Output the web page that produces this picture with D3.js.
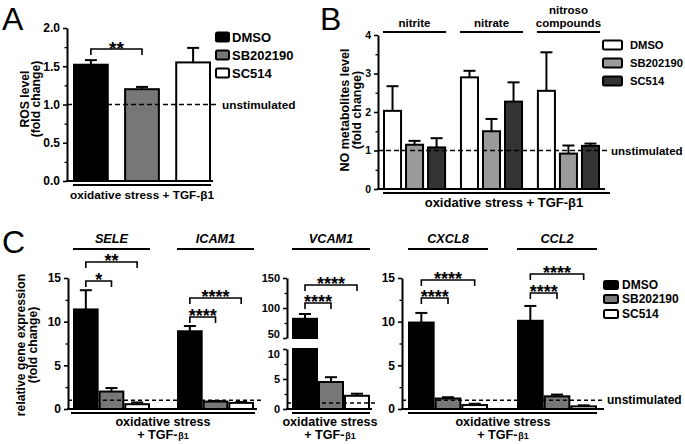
<!DOCTYPE html>
<html><head><meta charset="utf-8">
<script src="https://cdn.jsdelivr.net/npm/d3@7"></script>
<style>
body{margin:0;background:#fff;}
svg{display:block;}
</style></head><body>
<svg id="chart" width="685" height="444"></svg>
<script>
// ---------- Panel A data ----------
const aTreatments = ["DMSO", "SB202190", "SC514"];
const aValues = [1.52, 1.20, 1.55];
const aErrors = [0.06, 0.03, 0.19];
const aTicks = [0, 0.5, 1, 1.5, 2];
const aMinorTicks = [0.25, 0.75, 1.25, 1.75];
const aSig = "**";

// ---------- Panel B data ----------
const bCategories = ["nitrite", "nitrate", "nitroso compounds"];
const bTreatments = ["DMSO", "SB202190", "SC514"];
const bDMSO = [2.03, 2.90, 2.55];
const bDMSOErr = [0.64, 0.17, 1.00];
const bSB = [1.15, 1.50, 0.92];
const bSBErr = [0.10, 0.32, 0.21];
const bSC = [1.08, 2.27, 1.12];
const bSCErr = [0.24, 0.50, 0.06];
const bTicks = [0, 1, 2, 3, 4];
const bMinorTicks = [0.5, 1.5, 2.5, 3.5];

// ---------- Panel C data ----------
const cGenes = ["SELE", "ICAM1", "VCAM1", "CXCL8", "CCL2"];
const cTreatments = ["DMSO", "SB202190", "SC514"];
const cDMSO = [11.4, 8.9, 82, 9.9, 10.1];
const cDMSOErr = [2.2, 0.6, 8, 1.1, 1.7];
const cSB = [2.0, 0.85, 4.5, 1.2, 1.45];
const cSBErr = [0.4, 0.07, 0.8, 0.15, 0.2];
const cSC = [0.55, 0.7, 2.2, 0.45, 0.3];
const cSCErr = [0.2, 0.1, 0.35, 0.15, 0.12];
const cSigSB = ["*", "****", "****", "****", "****"];
const cSigSC = ["**", "****", "****", "****", "****"];
const cTicks = [0, 5, 10, 15];
const cMinorTicks = [2.5, 7.5, 12.5];
const cVcamLowTicks = [0, 5, 10];
const cVcamLowMinor = [2.5, 7.5];
const cVcamHighTicks = [50, 100, 150];
const cVcamHighMinor = [75, 125];

// ---------- helpers ----------
const FONT = '"Liberation Sans", Arial, Helvetica, sans-serif';
const svg = d3.select("#chart").attr("font-family", FONT);

function yAxis(scale, x, ticks, minor, fmt, fs) {
  const ax = svg.append("g").attr("transform", `translate(${x},0)`)
    .call(d3.axisLeft(scale).tickValues(ticks).tickSize(4).tickSizeOuter(0).tickPadding(3).tickFormat(fmt));
  ax.attr("font-family", FONT).attr("font-size", fs).attr("font-weight", "bold");
  ax.select(".domain").attr("stroke", "#000").attr("stroke-width", 2);
  ax.selectAll(".tick line").attr("stroke", "#000").attr("stroke-width", 1.6);
  ax.selectAll(".tick text").attr("fill", "#000");
  if (minor && minor.length) {
    const mx = svg.append("g").attr("transform", `translate(${x},0)`)
      .call(d3.axisLeft(scale).tickValues(minor).tickSize(2.5).tickFormat(""));
    mx.select(".domain").remove();
    mx.selectAll(".tick line").attr("stroke", "#000").attr("stroke-width", 1.3);
  }
  return ax;
}
function hline(x1, x2, y, w, dash) {
  const l = svg.append("line").attr("x1", x1).attr("x2", x2).attr("y1", y).attr("y2", y)
    .attr("stroke", "#000").attr("stroke-width", w);
  if (dash) l.attr("stroke-dasharray", dash);
  return l;
}
function bar(x, w, y0, y1, fill) {
  svg.append("rect").attr("x", x + 1).attr("width", w - 2)
    .attr("y", Math.min(y0, y1)).attr("height", Math.abs(y1 - y0))
    .attr("fill", fill).attr("stroke", "#000").attr("stroke-width", 2);
}
function errBar(cx, yTop, yErr, cap) {
  svg.append("line").attr("x1", cx).attr("x2", cx).attr("y1", yTop).attr("y2", yErr)
    .attr("stroke", "#000").attr("stroke-width", 2);
  hline(cx - cap / 2, cx + cap / 2, yErr, 2);
}
function bracket(x1, x2, y, tip, label, fs) {
  svg.append("path").attr("d", `M${x1},${y + tip}V${y}H${x2}V${y + tip}`)
    .attr("fill", "none").attr("stroke", "#000").attr("stroke-width", 1.6);
  svg.append("text").attr("x", (x1 + x2) / 2).attr("y", y + fs * 0.3)
    .attr("text-anchor", "middle").attr("font-size", fs).attr("font-weight", "bold").text(label);
}
function text(x, y, s, fs, anchor, extra) {
  const t = svg.append("text").attr("x", x).attr("y", y).attr("font-size", fs)
    .attr("font-weight", "bold").attr("text-anchor", anchor || "start").attr("fill", "#000").text(s);
  if (extra) extra(t);
  return t;
}
function rotTitle(cx, cy, lines, fs, gap) {
  lines.forEach((s, i) => {
    svg.append("text").attr("transform", `translate(${cx + i * gap},${cy}) rotate(-90)`)
      .attr("text-anchor", "middle").attr("font-size", fs).attr("font-weight", "bold").text(s);
  });
}
function legend(x, ys, labels, fills, bw, bh, tx, fs) {
  labels.forEach((lab, i) => {
    svg.append("rect").attr("x", x).attr("y", ys[i] - bh / 2).attr("width", bw).attr("height", bh)
      .attr("rx", 1.5).attr("fill", fills[i]).attr("stroke", "#000").attr("stroke-width", 2);
    text(tx, ys[i] + fs * 0.36, lab, fs);
  });
}
function panelLetter(x, y, s) {
  svg.append("text").attr("x", x).attr("y", y).attr("font-size", 32).attr("font-weight", "normal")
    .attr("font-family", '"Liberation Sans", Arial, sans-serif').text(s);
}

// ================= PANEL A =================
{
  const y = d3.scaleLinear().domain([0, 2]).range([181, 28]);
  const x = d3.scaleBand().domain(aTreatments).range([73, 211]).paddingInner(0.3);
  const fills = ["#000", "#777", "#fff"];
  aTreatments.forEach((t, i) => {
    bar(x(t), x.bandwidth(), y(0), y(aValues[i]), fills[i]);
    errBar(x(t) + x.bandwidth() / 2, y(aValues[i]), y(aValues[i] + aErrors[i]), 12);
  });
  hline(67, 218, y(1), 1.6, "5,3");
  text(222, y(1) + 4, "unstimulated", 11.8);
  yAxis(y, 67, aTicks, aMinorTicks, d3.format(".1f"), 12);
  hline(66, 213, y(0), 2);
  hline(73, 211, 185, 2);
  text(142, 199, "oxidative stress + TGF-β1", 11.8, "middle");
  rotTitle(29, 99, ["ROS level", "(fold change)"], 12.2, 11);
  const c0 = x(aTreatments[0]) + x.bandwidth() / 2, c1 = x(aTreatments[1]) + x.bandwidth() / 2;
  bracket(c0, c1, 49, 6, aSig, 19);
  legend(216, [37, 55, 73], aTreatments, fills, 13, 9, 232, 13);
  panelLetter(2, 30, "A");
}

// ================= PANEL B =================
{
  const y = d3.scaleLinear().domain([0, 4]).range([189, 35]);
  const x0 = d3.scaleBand().domain(bCategories).range([383, 600]).paddingInner(0.18);
  const x1 = d3.scaleBand().domain(bTreatments).range([0, x0.bandwidth()]).paddingInner(0.136);
  const fills = ["#fff", "#9a9a9a", "#333"];
  const vals = [bDMSO, bSB, bSC], errs = [bDMSOErr, bSBErr, bSCErr];
  bCategories.forEach((c, ci) => {
    bTreatments.forEach((t, ti) => {
      const bx = x0(c) + x1(t);
      bar(bx, x1.bandwidth(), y(0), y(vals[ti][ci]), fills[ti]);
      errBar(bx + x1.bandwidth() / 2, y(vals[ti][ci]), y(vals[ti][ci] + errs[ti][ci]), 12);
    });
    hline(x0(c), x0(c) + x0.bandwidth(), 32, 2.2);
    const words = c.split(" ");
    if (words.length === 1) text(x0(c) + x0.bandwidth() / 2, 27, c, 11.5, "middle");
    else {
      text(x0(c) + x0.bandwidth() / 2, 14, words[0], 11.5, "middle");
      text(x0(c) + x0.bandwidth() / 2, 27, words[1], 11.5, "middle");
    }
  });
  hline(378, 607, y(1), 1.6, "5,3");
  text(611, y(1) + 4, "unstimulated", 11.5);
  yAxis(y, 378, bTicks, bMinorTicks, d3.format("d"), 10.5);
  hline(377, 605, y(0), 2);
  hline(383, 610, 193, 2);
  text(504, 207, "oxidative stress + TGF-β1", 13, "middle");
  rotTitle(349, 110, ["NO metabolites level", "(fold change)"], 12.5, 12);
  legend(603, [45, 63, 81], bTreatments, fills, 19, 9, 630, 11.2);
  panelLetter(320, 30, "B");
}

// ================= PANEL C =================
{
  const y = d3.scaleLinear().domain([0, 15]).range([409, 278]);
  const fills = ["#000", "#777", "#fff"];
  const vals = [cDMSO, cSB, cSC], errs = [cDMSOErr, cSBErr, cSCErr];
  const lowerBracket = { SELE: 281, ICAM1: 317, VCAM1: 303, CXCL8: 298, CCL2: 293 };
  const upperBracket = { SELE: 262, ICAM1: 298, VCAM1: 285, CXCL8: 280, CCL2: 274 };

  function geneLabel(x0, w, g) {
    hline(x0, x0 + w, 249, 2.2);
    text(x0 + w / 2, 243, g, 12.7, "middle", t => t.attr("font-style", "italic"));
  }
  function xLabel(cx) {
    text(cx, 426, "oxidative stress", 12.6, "middle");
    text(cx, 439, "+ TGF-", 12.6, "middle", t => t.append("tspan").attr("font-size", 9).attr("dx", 1).text("β1"));
  }
  function brackets(g, gi, cx) {
    bracket(cx[0], cx[1], lowerBracket[g], 6, cSigSB[gi], 18);
    bracket(cx[0], cx[2], upperBracket[g], 6, cSigSC[gi], 18);
  }

  const groupsSets = [
    { genes: [cGenes[0], cGenes[1]], axisX: 68, range: [73, 254], pad: 0.26, axisEnd: 257, dashEnd: 262, base: [71, 255], lab: 163 },
    { genes: [cGenes[3], cGenes[4]], axisX: 402, range: [408, 597], pad: 0.266, axisEnd: 604, dashEnd: 604, base: [408, 597], lab: 503 }
  ];
  groupsSets.forEach(set => {
    const x0 = d3.scaleBand().domain(set.genes).range(set.range).paddingInner(set.pad);
    const x1 = d3.scaleBand().domain(cTreatments).range([0, x0.bandwidth()]);
    set.genes.forEach(g => {
      const gi = cGenes.indexOf(g);
      const cx = [];
      cTreatments.forEach((t, ti) => {
        const bx = x0(g) + x1(t);
        bar(bx, x1.bandwidth(), y(0), y(vals[ti][gi]), fills[ti]);
        errBar(bx + x1.bandwidth() / 2, y(vals[ti][gi]), y(vals[ti][gi] + errs[ti][gi]), 12);
        cx.push(bx + x1.bandwidth() / 2);
      });
      geneLabel(x0(g), x0.bandwidth(), g);
      brackets(g, gi, cx);
    });
    hline(set.axisX, set.dashEnd, y(1), 1.4, "4,3");
    yAxis(y, set.axisX, cTicks, cMinorTicks, d3.format("d"), 12);
    hline(set.axisX - 1, set.axisEnd, y(0), 2);
    hline(set.base[0], set.base[1], 413, 2);
    xLabel(set.lab);
  });
  text(607, y(1) + 4, "unstimulated", 12);

  // sub-panel 2: VCAM1 with broken axis
  {
    const g = cGenes[2], gi = 2;
    const yLow = d3.scaleLinear().domain([0, 10]).range([409, 349]);
    const yHigh = d3.scaleLinear().domain([50, 150]).range([338, 278]);
    const x1 = d3.scaleBand().domain(cTreatments).range([292, 370]);
    const cx = [];
    cTreatments.forEach((t, ti) => {
      const v = vals[ti][gi], e = errs[ti][gi];
      const bx = x1(t);
      if (v > 10) {
        bar(bx, x1.bandwidth(), yLow(0), yLow(10), fills[ti]);
        bar(bx, x1.bandwidth(), yHigh(50), yHigh(v), fills[ti]);
        errBar(bx + x1.bandwidth() / 2, yHigh(v), yHigh(v + e), 12);
      } else {
        bar(bx, x1.bandwidth(), yLow(0), yLow(v), fills[ti]);
        errBar(bx + x1.bandwidth() / 2, yLow(v), yLow(v + e), 12);
      }
      cx.push(bx + x1.bandwidth() / 2);
    });
    hline(287, 375, yLow(1), 1.4, "4,3");
    const axLow = yAxis(yLow, 287, cVcamLowTicks, cVcamLowMinor, d3.format("d"), 11);
    const axHigh = yAxis(yHigh, 287, cVcamHighTicks, cVcamHighMinor, d3.format("d"), 11);
    // keep the adjacent "50" and "10" labels from colliding at the axis break
    axHigh.selectAll(".tick text").filter(d => d === 50).attr("dy", "-0.05em");
    axLow.selectAll(".tick text").filter(d => d === 10).attr("dy", "0.75em");
    hline(286, 372, yLow(0), 2);
    hline(292, 370, 413, 2);
    geneLabel(292, 78, g);
    brackets(g, gi, cx);
    xLabel(330);
  }

  rotTitle(25, 345, ["relative gene expression", "(fold change)"], 12.2, 12);
  legend(604, [285, 299, 314], cTreatments, fills, 14, 8, 622, 12);
  panelLetter(2, 253, "C");
}
</script>
</body></html>
